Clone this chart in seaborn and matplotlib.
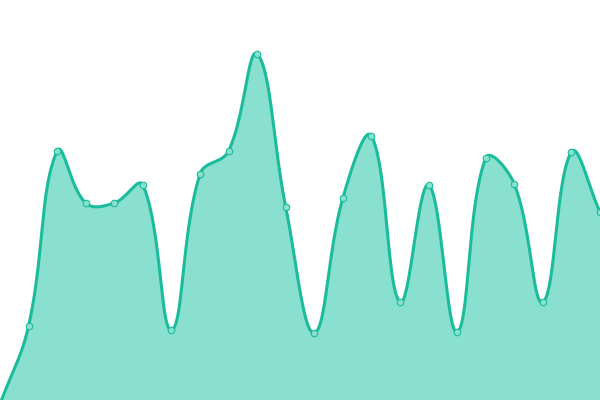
import numpy as np
import pandas as pd
import seaborn as sns
from matplotlib import pyplot as plt

# valores (22 puntos)
idx = list(range(22))
values = [-4, 74, 249, 197, 197, 215, 70, 226, 249, 346, 193, 67,
          202, 264, 98, 215, 68, 242, 216, 98, 248, 188]

df = pd.DataFrame({"x": idx, "y": values})

# curva suave tipo spline con tension 0.4 (en pixeles)
sx = 600 / 21
px = df["x"].to_numpy() * sx
py = df["y"].to_numpy().astype(float)
t = 0.4
n = len(px)
cp_prev = []
cp_next = []
for i in range(n):
    p0 = (px[i - 1], py[i - 1]) if i > 0 else (px[i], py[i])
    p1 = (px[i], py[i])
    p2 = (px[i + 1], py[i + 1]) if i < n - 1 else (px[i], py[i])
    d01 = np.hypot(p1[0] - p0[0], p1[1] - p0[1])
    d12 = np.hypot(p2[0] - p1[0], p2[1] - p1[1])
    s01 = d01 / (d01 + d12) if d01 + d12 else 0
    s12 = d12 / (d01 + d12) if d01 + d12 else 0
    fa, fb = t * s01, t * s12
    cp_prev.append((p1[0] - fa * (p2[0] - p0[0]), p1[1] - fa * (p2[1] - p0[1])))
    cp_next.append((p1[0] + fb * (p2[0] - p0[0]), p1[1] + fb * (p2[1] - p0[1])))

cx, cy = [], []
u = np.linspace(0, 1, 40)
for i in range(n - 1):
    a = (px[i], py[i])
    b = cp_next[i]
    c = cp_prev[i + 1]
    d = (px[i + 1], py[i + 1])
    bx = (1 - u) ** 3 * a[0] + 3 * (1 - u) ** 2 * u * b[0] + 3 * (1 - u) * u ** 2 * c[0] + u ** 3 * d[0]
    by = (1 - u) ** 3 * a[1] + 3 * (1 - u) ** 2 * u * b[1] + 3 * (1 - u) * u ** 2 * c[1] + u ** 3 * d[1]
    cx.extend(bx / sx)
    cy.extend(by)

curve = pd.DataFrame({"x": cx, "y": cy})

sns.set_style("white")
fig = plt.figure(figsize=(6, 4), dpi=100)
ax = fig.add_axes([0, 0, 1, 1])

ax.fill_between(curve["x"], curve["y"], -20, color="#89e0ce", linewidth=0)
sns.lineplot(x="x", y="y", data=curve, sort=False, color="#1abc9c", linewidth=2.2, ax=ax)
sns.scatterplot(x="x", y="y", data=df, s=22, color="#8ae0cf", edgecolor="#1abc9c",
                linewidth=0.8, ax=ax, zorder=3)

ax.set_xlim(0, 21)
ax.set_ylim(0, 400)
ax.axis("off")

fig.savefig("out.png", dpi=100)
